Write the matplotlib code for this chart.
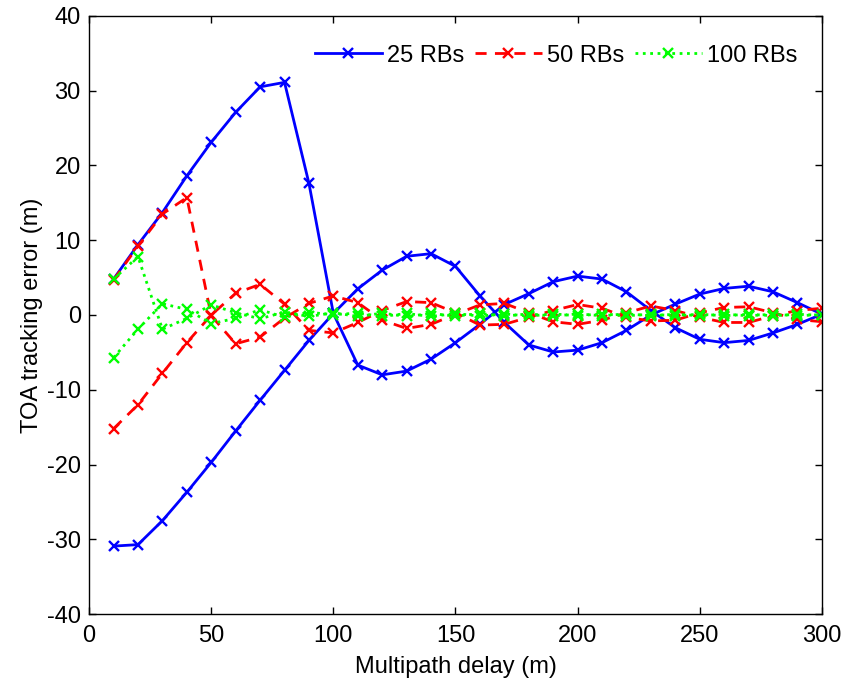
import matplotlib
matplotlib.use("Agg")
import matplotlib.pyplot as plt

plt.rcParams['font.family'] = ['Liberation Sans', 'DejaVu Sans']
plt.rcParams['axes.unicode_minus'] = False

delay = [10, 20, 30, 40, 50, 60, 70, 80, 90, 100,
         110, 120, 130, 140, 150, 160, 170, 180, 190, 200,
         210, 220, 230, 240, 250, 260, 270, 280, 290, 300]

# 25 RBs (two branches)
rb25_a = [4.8, 9.4, 13.7, 18.6, 23.1, 27.1, 30.5, 31.1, 17.6, 0.2,
          -6.7, -8.0, -7.5, -5.9, -3.7, -1.25, 1.4, 2.85, 4.45, 5.2,
          4.8, 3.1, 0.6, -1.7, -3.25, -3.7, -3.4, -2.4, -1.25, 0.1]
rb25_b = [-30.9, -30.7, -27.5, -23.7, -19.7, -15.5, -11.4, -7.4, -3.4, 0.2,
          3.5, 6.0, 7.85, 8.2, 6.5, 2.55, -1.0, -4.0, -4.95, -4.7,
          -3.7, -2.05, 0.0, 1.45, 2.8, 3.55, 3.85, 3.1, 1.65, 0.1]

# 50 RBs
rb50_a = [4.7, 9.2, 13.5, 15.7, -0.1, -3.85, -2.95, -0.4, 1.55, 2.55,
          1.65, -0.7, -1.8, -1.25, 0.1, 1.35, 1.55, 0.3, -0.9, -1.25,
          -0.7, 0.3, 1.2, 0.6, -0.3, -1.0, -1.0, -0.1, 0.6, 0.9]
rb50_b = [-15.2, -12.0, -7.8, -3.7, 0.0, 2.9, 4.1, 1.45, -2.05, -2.4,
          -1.0, 0.6, 1.8, 1.65, 0.3, -1.35, -1.25, -0.3, 0.6, 1.4,
          0.9, -0.3, -0.8, -0.7, 0.3, 1.0, 1.1, 0.3, -0.6, -0.9]

# 100 RBs
rb100_a = [4.8, 7.8, -1.9, -0.45, 1.35, 0.3, -0.5, 0.4, -0.2, 0.3,
           -0.2, 0.25, -0.2, 0.2, -0.15, 0.2, -0.15, 0.15, -0.15, 0.15,
           -0.1, 0.15, -0.1, 0.1, -0.1, 0.1, -0.1, 0.1, -0.1, 0.05]
rb100_b = [-5.7, -1.9, 1.5, 0.75, -1.15, -0.45, 0.7, -0.3, 0.35, 0.05,
           0.25, -0.2, 0.2, -0.2, 0.2, -0.15, 0.15, -0.15, 0.15, -0.1,
           0.15, -0.1, 0.1, -0.1, 0.1, -0.1, 0.1, -0.1, 0.1, -0.05]

labels = ['25 RBs', '50 RBs', '100 RBs']

fig = plt.figure(figsize=(8.57, 6.87), dpi=100)
ax = fig.add_axes([0.104, 0.106, 0.855, 0.871])

lw = 2.0
ms = 7
mew = 1.7
ax.plot(delay, rb25_a, '-', color='#0000FF', marker='x', lw=lw, ms=ms, mew=mew, label=labels[0])
ax.plot(delay, rb25_b, '-', color='#0000FF', marker='x', lw=lw, ms=ms, mew=mew)
ax.plot(delay, rb50_a, '--', color='#FF0000', marker='x', lw=lw, ms=ms, mew=mew, label=labels[1], dashes=(4, 3))
ax.plot(delay, rb50_b, '--', color='#FF0000', marker='x', lw=lw, ms=ms, mew=mew, dashes=(4, 3))
ax.plot(delay, rb100_a, ':', color='#00FF00', marker='x', lw=lw, ms=ms, mew=mew, label=labels[2])
ax.plot(delay, rb100_b, ':', color='#00FF00', marker='x', lw=lw, ms=ms, mew=mew)

ax.set_xlim(0, 300)
ax.set_ylim(-40, 40)
ax.set_xticks([0, 50, 100, 150, 200, 250, 300])
ax.set_yticks([-40, -30, -20, -10, 0, 10, 20, 30, 40])
ax.tick_params(direction='in', top=True, right=True, labelsize=17, length=5, width=1)
ax.tick_params(axis='x', pad=8)
ax.tick_params(axis='y', pad=6)
for s in ax.spines.values():
    s.set_linewidth(1.0)

ax.set_xlabel('Multipath delay (m)', fontsize=17, labelpad=6)
ax.set_ylabel('TOA tracking error (m)', fontsize=17, labelpad=3)

leg = ax.legend(loc='upper right', ncol=3, frameon=False, fontsize=17,
                handlelength=2.85, columnspacing=0.45, handletextpad=0.2,
                borderpad=0, borderaxespad=0,
                bbox_to_anchor=(0.930, 0.935), bbox_transform=fig.transFigure)

fig.savefig('out.png', dpi=100)
